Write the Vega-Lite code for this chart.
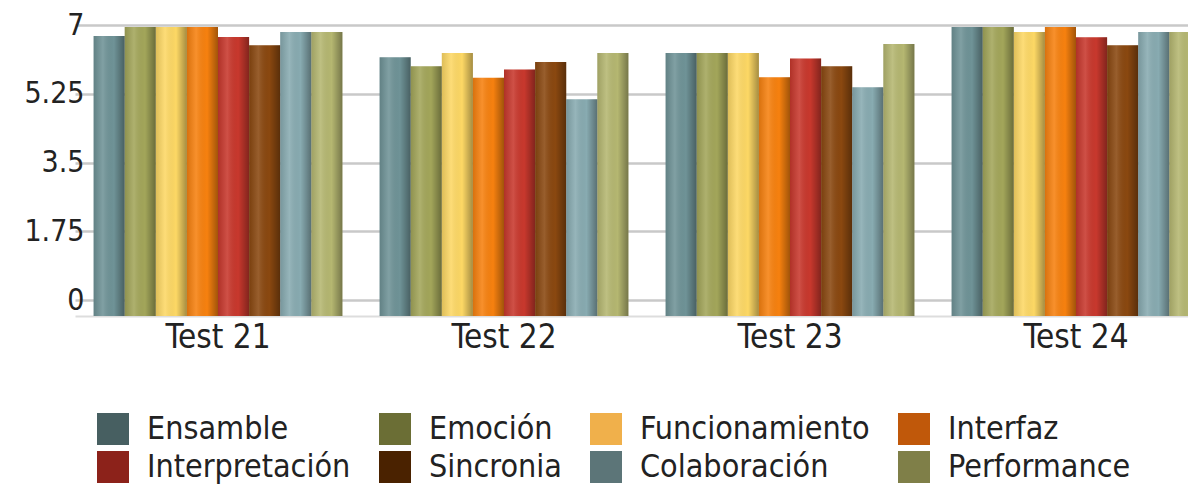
{
  "$schema": "https://vega.github.io/schema/vega-lite/v6.json",
  "width": 1113,
  "height": 291,
  "autosize": "none",
  "padding": {"left": 75, "top": 25, "right": 0, "bottom": 170},
  "background": "white",
  "config": {
    "view": {"stroke": null},
    "font": "DejaVu Sans Condensed",
    "axis": {"labelFont": "DejaVu Sans Condensed", "labelColor": "#222222"},
    "legend": {"labelFont": "DejaVu Sans Condensed", "labelColor": "#222222"}
  },
  "data": {
    "values": [
      {"test": "Test 21", "cat": "Ensamble", "value": 6.78},
      {"test": "Test 21", "cat": "Emoción", "value": 7.0},
      {"test": "Test 21", "cat": "Funcionamiento", "value": 7.0},
      {"test": "Test 21", "cat": "Interfaz", "value": 7.0},
      {"test": "Test 21", "cat": "Interpretación", "value": 6.76},
      {"test": "Test 21", "cat": "Sincronia", "value": 6.56},
      {"test": "Test 21", "cat": "Colaboración", "value": 6.88},
      {"test": "Test 21", "cat": "Performance", "value": 6.88},
      {"test": "Test 22", "cat": "Ensamble", "value": 6.27},
      {"test": "Test 22", "cat": "Emoción", "value": 6.05},
      {"test": "Test 22", "cat": "Funcionamiento", "value": 6.37},
      {"test": "Test 22", "cat": "Interfaz", "value": 5.77},
      {"test": "Test 22", "cat": "Interpretación", "value": 5.97},
      {"test": "Test 22", "cat": "Sincronia", "value": 6.15},
      {"test": "Test 22", "cat": "Colaboración", "value": 5.25},
      {"test": "Test 22", "cat": "Performance", "value": 6.37},
      {"test": "Test 23", "cat": "Ensamble", "value": 6.37},
      {"test": "Test 23", "cat": "Emoción", "value": 6.37},
      {"test": "Test 23", "cat": "Funcionamiento", "value": 6.37},
      {"test": "Test 23", "cat": "Interfaz", "value": 5.78},
      {"test": "Test 23", "cat": "Interpretación", "value": 6.24},
      {"test": "Test 23", "cat": "Sincronia", "value": 6.05},
      {"test": "Test 23", "cat": "Colaboración", "value": 5.54},
      {"test": "Test 23", "cat": "Performance", "value": 6.59},
      {"test": "Test 24", "cat": "Ensamble", "value": 7.0},
      {"test": "Test 24", "cat": "Emoción", "value": 7.0},
      {"test": "Test 24", "cat": "Funcionamiento", "value": 6.88},
      {"test": "Test 24", "cat": "Interfaz", "value": 7.0},
      {"test": "Test 24", "cat": "Interpretación", "value": 6.75},
      {"test": "Test 24", "cat": "Sincronia", "value": 6.56},
      {"test": "Test 24", "cat": "Colaboración", "value": 6.88},
      {"test": "Test 24", "cat": "Performance", "value": 6.88}
    ]
  },
  "encoding": {
    "x": {
      "field": "test", "type": "nominal",
      "scale": {"range": [0, 1144], "paddingInner": 0.13, "paddingOuter": 0.065},
      "axis": {"title": null, "labelAngle": 0, "labelFontSize": 33, "labelPadding": 5, "ticks": false, "domainColor": "#dddddd", "domainWidth": 2}
    }
  },
  "layer": [
    {
      "mark": {"type": "point", "opacity": 0, "filled": true, "shape": "square"},
      "encoding": {
        "y": {
          "field": "value", "type": "quantitative",
          "scale": {"domain": [0, 7], "nice": false, "zero": true, "range": [275, 0]},
          "axis": {"title": null, "values": [0, 1.75, 3.5, 5.25, 7], "format": ".3~g", "labelFontSize": 30, "ticks": false, "domain": false, "offset": -9, "labelPadding": 0, "gridColor": "#c9c9c9", "gridWidth": 2.5}
        },
        "color": {
          "field": "cat", "type": "nominal",
          "sort": ["Ensamble", "Emoción", "Funcionamiento", "Interfaz", "Interpretación", "Sincronia", "Colaboración", "Performance"],
          "scale": {
            "domain": ["Ensamble", "Emoción", "Funcionamiento", "Interfaz", "Interpretación", "Sincronia", "Colaboración", "Performance"],
            "range": ["#475f61", "#6b6e35", "#f0b04b", "#c0580a", "#8c221a", "#4a2200", "#5c7578", "#7f7f48"]
          },
          "legend": {
            "title": null, "orient": "none", "legendX": 22, "legendY": 388, "direction": "horizontal", "columns": 4,
            "symbolType": "square", "symbolSize": 1024, "symbolOpacity": 1, "symbolStrokeWidth": 0,
            "labelFontSize": 32, "labelOffset": 18, "columnPadding": 28, "rowPadding": 6, "padding": 0, "labelLimit": 400
          }
        }
      }
    },
    {
      "mark": {"type": "bar"},
      "encoding": {
        "xOffset": {
          "field": "cat", "type": "nominal",
          "sort": ["Ensamble", "Emoción", "Funcionamiento", "Interfaz", "Interpretación", "Sincronia", "Colaboración", "Performance"],
          "scale": {"paddingInner": 0, "paddingOuter": 0}
        },
        "y": {
          "field": "value", "type": "quantitative",
          "scale": {"domain": [0, 7], "nice": false, "zero": true, "range": [291, 2]},
          "axis": null
        },
        "color": {
          "field": "cat", "type": "nominal",
          "scale": {
            "domain": ["Ensamble", "Emoción", "Funcionamiento", "Interfaz", "Interpretación", "Sincronia", "Colaboración", "Performance"],
            "range": ["#6f9397", "#a3a65a", "#fdd865", "#f7810f", "#c8382d", "#8a4810", "#88abb1", "#b5b771"]
          },
          "legend": null
        }
      }
    },
    {
      "mark": {
        "type": "bar",
        "fill": {
          "gradient": "linear", "x1": 0, "y1": 0, "x2": 1, "y2": 0,
          "stops": [
            {"offset": 0, "color": "rgba(0,0,0,0.12)"},
            {"offset": 0.3, "color": "rgba(255,255,255,0.12)"},
            {"offset": 0.65, "color": "rgba(0,0,0,0)"},
            {"offset": 1, "color": "rgba(0,0,0,0.35)"}
          ]
        }
      },
      "encoding": {
        "xOffset": {
          "field": "cat", "type": "nominal",
          "sort": ["Ensamble", "Emoción", "Funcionamiento", "Interfaz", "Interpretación", "Sincronia", "Colaboración", "Performance"],
          "scale": {"paddingInner": 0, "paddingOuter": 0}
        },
        "y": {
          "field": "value", "type": "quantitative",
          "scale": {"domain": [0, 7], "nice": false, "zero": true, "range": [291, 2]},
          "axis": null
        }
      }
    }
  ],
  "resolve": {"scale": {"y": "independent", "color": "independent"}}
}
